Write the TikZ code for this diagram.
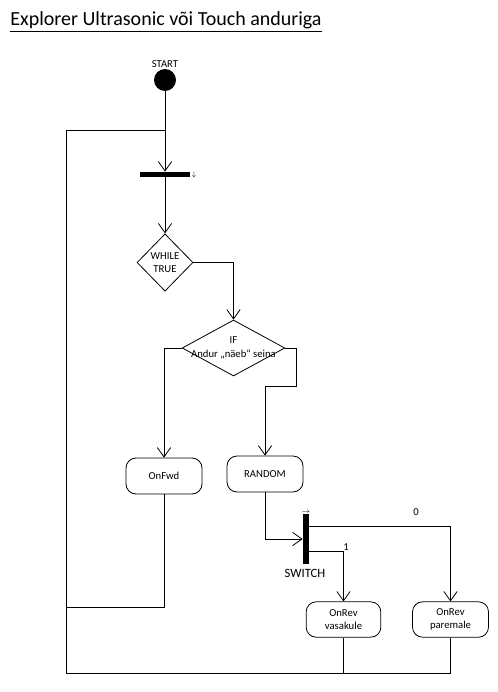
\documentclass[tikz,border=0pt]{standalone}
\usepackage{fontspec}
\setmainfont{Carlito}
\usetikzlibrary{arrows.meta,shapes.geometric,calc}

\begin{document}
\begin{tikzpicture}[x=0.75pt,y=0.75pt,yscale=-1,xscale=1,line width=0.6pt,
  flow/.style={-{Straight Barb[length=7pt,width=10pt,line width=0.6pt]}},
  act/.style={draw,rounded corners=7.5pt,minimum width=57pt,minimum height=27pt,inner sep=0pt,align=center,font=\fontsize{8}{10}\selectfont},
  cond/.style={draw,diamond,inner sep=0pt,minimum width=#1},
  bar/.style={fill=black,draw=none,inner sep=0pt},
  small/.style={inner sep=0.75pt,align=center,font=\fontsize{8}{10}\selectfont}]
\useasboundingbox (0,0) rectangle (498,692);

% Text Node
\node [anchor=base west,inner sep=0pt,font=\fontsize{15}{17}\selectfont] (title) at (10,26) {\underline{Explorer Ultrasonic või Touch anduriga}};

%Shape: Circle
\node [circle,fill=black,inner sep=0pt,minimum size=16.5pt] (start) at (165,80) {};
\node [small] (startlbl) at (165,64) {START};

%Shape: Fork bar
\node [bar,minimum width=37.5pt,minimum height=3.75pt] (fork) at (165,174.5) {};
\node [small,font=\tiny] (forkarr) at (194,175) {$\downarrow$};

%Shape: Diamond
\node [cond=42pt,minimum height=43pt] (while) at (165,262.5) {};
\node [small] (whilelbl) at (165,262.5) {WHILE\\TRUE};

%Shape: Diamond
\node [cond=77pt,minimum height=42pt] (if) at (233.5,348) {};
\node [small] (iflbl) at (233.5,348) {IF\\Andur „näeb“ seina};

%Shape: Rounded rectangles
\node [act] (onfwd) at (164,476) {OnFwd};
\node [act] (random) at (265,474) {RANDOM};
\node [act,minimum width=56pt,minimum height=26.5pt] (vasakule) at (343.5,619.5) {OnRev\\vasakule};
\node [act,minimum width=57pt,minimum height=26.5pt] (paremale) at (450.5,619.5) {OnRev\\paremale};

%Shape: Switch bar
\node [bar,minimum width=4.5pt,minimum height=37.5pt] (switch) at (306,539) {};
\node [small,font=\tiny] (switcharr) at (306,512) {$\rightarrow$};
\node [small,font=\fontsize{9.5}{11}\selectfont] (switchlbl) at (305,573) {SWITCH};

% Corner points of the loops
\coordinate (top) at (165,130);
\coordinate (bot) at (66,673);
\coordinate (mid) at (66,607);
\coordinate (ifR) at (296,386);

%Straight Lines
\draw [flow] (start) -- (fork);
\draw [flow] (fork) -- (while);
\draw [flow] (while.east) -| (if.north);
\draw [flow] (if.west) -| (onfwd.north);
\draw [flow] (if.east) -| (ifR) -| (random.north);
\draw [flow] (random.south) |- (switch.west);
\draw [flow] ($(switch.east)+(0,-13)$) -| (paremale.north);
\draw [flow] ($(switch.east)+(0,12)$) -| (vasakule.north);
\node [small] (zero) at (416,512) {0};
\node [small] (one) at (346,547) {1};

% Loops back
\draw (paremale.south) |- (bot) |- (top);
\draw (vasakule.south) -- (vasakule.south |- bot);
\draw (onfwd.south) |- (mid);

\end{tikzpicture}
\end{document}
